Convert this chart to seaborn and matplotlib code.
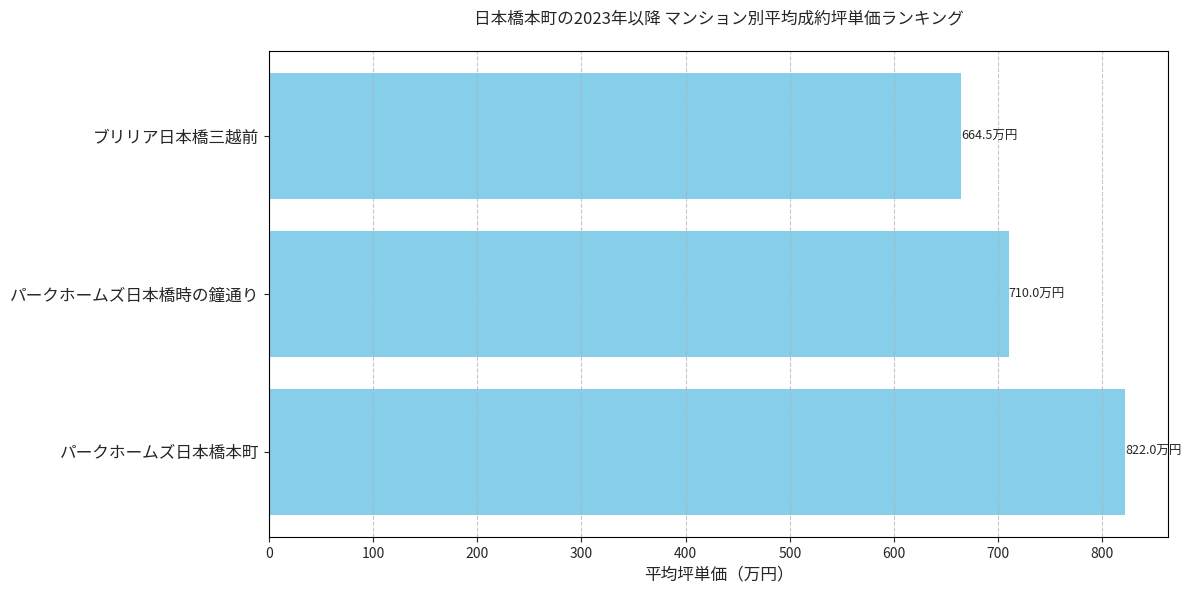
import pandas as pd
import seaborn as sns
import matplotlib.pyplot as plt

names = ["ブリリア日本橋三越前", "パークホームズ日本橋時の鐘通り", "パークホームズ日本橋本町"]
prices = [664.5, 710.0, 822.0]

sns.set_style("white")
plt.rcParams['font.family'] = ['Noto Sans CJK JP', 'DejaVu Sans']

df = pd.DataFrame({"name": names, "price": prices})

fig, ax = plt.subplots(figsize=(11.94, 5.93), dpi=100)
sns.barplot(data=df, x="price", y="name", color="skyblue", saturation=1, width=0.8,
            linewidth=0, edgecolor="none", ax=ax)
ax.set_ylim(2.54, -0.54)
ax.set_xlim(0, max(prices) * 1.05)

for i, v in enumerate(prices):
    ax.text(v, i, f"{v:.1f}万円", va="center", ha="left", fontsize=9)

ax.grid(axis="x", linestyle="--", alpha=0.7, color="#b0b0b0")
ax.set_axisbelow("line")
for s in ax.spines.values():
    s.set_color("black")
    s.set_linewidth(0.8)
ax.tick_params(axis="y", labelsize=12, left=True, length=3.5)
ax.tick_params(axis="x", labelsize=10, bottom=True, length=3.5)
ax.set_xlabel("平均坪単価（万円）", fontsize=12)
ax.set_ylabel("")
ax.set_title("日本橋本町の2023年以降 マンション別平均成約坪単価ランキング", fontsize=12, pad=20)

plt.subplots_adjust(left=0.2253, right=0.9782, top=0.914, bottom=0.0944)
plt.savefig("out.png", dpi=100)
